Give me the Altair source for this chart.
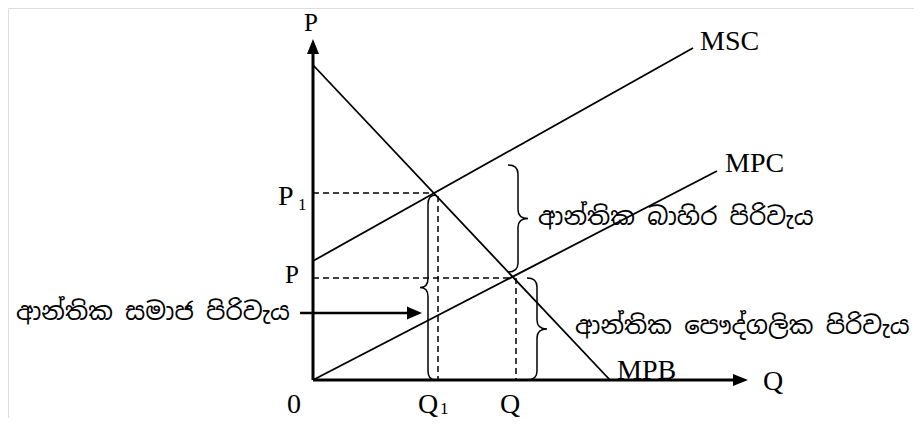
import altair as alt
import pandas as pd

# ---- data (diagram units: origin of the axes at 0,0) ----
curve_names = ["MPB", "MSC", "MPC"]
curve_x0 = [0, 0, 0]
curve_y0 = [315, 119, 0]
curve_x1 = [297, 380, 404]
curve_y1 = [0, 332, 209]

axis_names = ["P", "Q"]
axis_tip_x = [0, 435]
axis_tip_y = [341, 0]

dash_x0 = [0, 125, 0, 203]
dash_y0 = [187, 184, 102, 102]
dash_x1 = [121, 125, 200, 203]
dash_y1 = [187, 0, 102, 0]

# main labels (Times-like)
lab_text = ["MSC", "MPC", "MPB", "Q", "P", "0", "Q", "Q"]
lab_x = [387, 412, 304, 450, -35, -26, 105, 187]
lab_y = [330, 208, 1, -10, 175, -33, -33, -33]

mid_text = ["P", "P"]
mid_x = [-9, -28]
mid_y = [349, 97]

sub_text = ["1", "1"]
sub_x = [-15, 127]
sub_y = [170, -34]

# Sinhala annotations
si_right_text = ["ආන්තික සමාජ පිරිවැය"]
si_right_x = [-23]
si_right_y = [67]
si_left_text = ["ආන්තික බාහිර පිරිවැය", "ආන්තික පෞද්ගලික පිරිවැය"]
si_left_x = [225, 262]
si_left_y = [162, 53]

# pointer arrow
ptr_x0, ptr_x1, ptr_y = -13, 109, 67

# braces
brace_x = [115, 205, 224]
brace_y0 = [0, 108, 0]
brace_y1 = [185, 215, 102]
brace_dir = ["left", "right", "right"]

# ---- scales ----
W, H = 906, 410
xs = alt.Scale(domain=[-305, 601], nice=False, zero=False)
ys = alt.Scale(domain=[-38, 372], nice=False, zero=False)


def ex(f):
    return alt.X(f, type="quantitative", scale=xs, axis=None)


def ey(f):
    return alt.Y(f, type="quantitative", scale=ys, axis=None)


curves = pd.DataFrame({"name": curve_names, "x0": curve_x0, "y0": curve_y0,
                       "x1": curve_x1, "y1": curve_y1})
curve_layer = alt.Chart(curves).mark_rule(color="black", strokeWidth=1.8).encode(
    x=ex("x0"), y=ey("y0"), x2="x1", y2="y1")

axes = pd.DataFrame({"name": axis_names, "tx": axis_tip_x, "ty": axis_tip_y})
axis_layer = alt.Chart(axes).transform_calculate(
    ex0="0", ey0="0",
    ex1="datum.tx > 0 ? datum.tx - 12 : 0",
    ey1="datum.ty > 0 ? datum.ty - 12 : 0",
).mark_rule(color="black", strokeWidth=3).encode(
    x=ex("ex0:Q"), y=ey("ey0:Q"), x2="ex1:Q", y2="ey1:Q")

UP = "M0,0L0.8,2L-0.8,2Z"
RIGHT = "M0,0L-2,-0.8L-2,0.8Z"
PTR = "M0,0L-2,-0.87L-2,0.87Z"

up_layer = alt.Chart(axes[axes.name == "P"]).mark_point(
    shape=UP, filled=True, color="black", opacity=1, size=225, strokeWidth=0
).encode(x=ex("tx"), y=ey("ty"))
right_layer = alt.Chart(axes[axes.name == "Q"]).mark_point(
    shape=RIGHT, filled=True, color="black", opacity=1, size=225, strokeWidth=0
).encode(x=ex("tx"), y=ey("ty"))

dashes = pd.DataFrame({"x0": dash_x0, "y0": dash_y0, "x1": dash_x1, "y1": dash_y1})
dash_layer = alt.Chart(dashes).mark_rule(
    color="black", strokeWidth=1.5, strokeDash=[6, 4]).encode(
    x=ex("x0"), y=ey("y0"), x2="x1", y2="y1")

ptr = pd.DataFrame({"x0": [ptr_x0], "x1": [ptr_x1], "y": [ptr_y]})
ptr_line = alt.Chart(ptr).transform_calculate(xe="datum.x1 - 12").mark_rule(
    color="black", strokeWidth=2.5).encode(x=ex("x0"), x2="xe:Q", y=ey("y"))
ptr_head = alt.Chart(ptr).mark_point(
    shape=PTR, filled=True, color="black", opacity=1, size=225, strokeWidth=0
).encode(x=ex("x1"), y=ey("y"))


def brace_path(height_px, half_w_px, radius_px, direction):
    u = height_px / 2.0
    a = half_w_px / u
    r = radius_px / u
    s = 1 if direction == "right" else -1
    return (f"M{-s*a:.4f},-1Q0,-1 0,{-1+r:.4f}L0,{-r:.4f}Q0,0 {s*a:.4f},0"
            f"Q0,0 0,{r:.4f}L0,{1-r:.4f}Q0,1 {-s*a:.4f},1")


brace_layers = []
for bx, b0, b1, bd in zip(brace_x, brace_y0, brace_y1, brace_dir):
    h = b1 - b0
    df = pd.DataFrame({"x": [bx], "y0": [b0], "y1": [b1]})
    hw = 8 if bd == "left" else 10
    brace_layers.append(
        alt.Chart(df).transform_calculate(yc="(datum.y0 + datum.y1) / 2")
        .mark_point(shape=brace_path(h, hw, 9, bd), filled=False, color="black",
                    opacity=1, strokeWidth=1.5, size=h * h)
        .encode(x=ex("x"), y=ey("yc:Q"))
    )

SERIF = "Liberation Serif, Times New Roman, serif"
SIN = "Noto Sans Sinhala, Iskoola Pota, Noto Sans, sans-serif"

labels = pd.DataFrame({"t": lab_text, "x": lab_x, "y": lab_y})
lab_layer = alt.Chart(labels).mark_text(
    font=SERIF, fontSize=28, align="left", baseline="alphabetic", color="black"
).encode(x=ex("x"), y=ey("y"), text="t:N")

mids = pd.DataFrame({"t": mid_text, "x": mid_x, "y": mid_y})
mid_layer = alt.Chart(mids).mark_text(
    font=SERIF, fontSize=25, align="left", baseline="alphabetic", color="black"
).encode(x=ex("x"), y=ey("y"), text="t:N")

subs = pd.DataFrame({"t": sub_text, "x": sub_x, "y": sub_y})
sub_layer = alt.Chart(subs).mark_text(
    font=SERIF, fontSize=17, align="left", baseline="alphabetic", color="black"
).encode(x=ex("x"), y=ey("y"), text="t:N")

sir = pd.DataFrame({"t": si_right_text, "x": si_right_x, "y": si_right_y})
sir_layer = alt.Chart(sir).mark_text(
    font=SIN, fontSize=24.5, align="right", baseline="middle", color="black"
).encode(x=ex("x"), y=ey("y"), text="t:N")

sil = pd.DataFrame({"t": si_left_text, "x": si_left_x, "y": si_left_y})
sil_layer = alt.Chart(sil).mark_text(
    font=SIN, fontSize=24.5, align="left", baseline="middle", color="black"
).encode(x=ex("x"), y=ey("y"), text="t:N")

chart = alt.layer(
    curve_layer, dash_layer, axis_layer, up_layer, right_layer,
    ptr_line, ptr_head, *brace_layers,
    lab_layer, mid_layer, sub_layer, sir_layer, sil_layer,
).properties(
    width=W, height=H, padding=0, autosize=alt.AutoSizeParams(type="none")
).configure_view(stroke="transparent", strokeWidth=0).configure(background="white")

chart.save("out.html", embed_options={"renderer": "svg", "actions": False})
